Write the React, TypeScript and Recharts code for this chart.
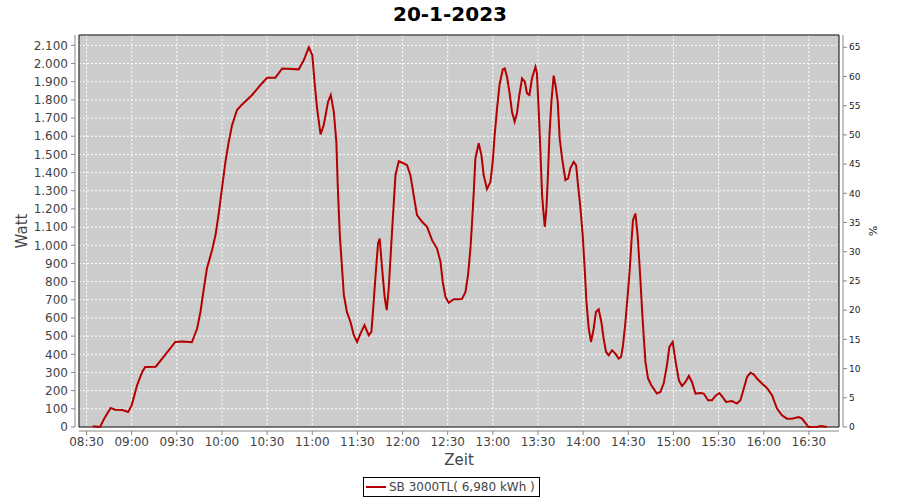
import {
  LineChart,
  Line,
  XAxis,
  YAxis,
  CartesianGrid,
  ReferenceArea,
  Legend,
} from "recharts";

// minutes since midnight
const times = [
  514, 516, 519, 522, 526, 529, 534, 537.6, 540, 543.6, 547, 549, 556, 562.5, 569, 574, 580,
  583.5, 585.7, 588, 590, 593.4, 595.7, 598, 600, 602.3, 604.5, 606.7, 610, 613.4, 620, 625.6,
  630, 635.5, 640, 651, 654.4, 657.7, 660, 661.7, 663.2, 665.5, 667.6, 670.5, 672.3, 674.3, 676,
  677, 678.3, 679.8, 681, 683, 685.4, 687.6, 689.8, 692, 694.7, 697.5, 699.3, 700.8, 702.4,
  703.7, 704.8, 706.4, 708.2, 709.5, 710.8, 712.6, 714.2, 715.3, 717.5, 720.8, 723, 725.2,
  727.4, 729.6, 733, 736.3, 739.6, 742.9, 745.2, 746.7, 748.5, 750.7, 754, 757.3, 759.5, 761.8,
  763.5, 765.1, 766.2, 767.3, 768.4, 770.6, 772.4, 773.9, 776.1, 778.4, 779.9, 781.2, 782.8,
  784.4, 786.6, 787.9, 789.4, 791, 792.7, 794.5, 796, 797.6, 799.4, 801.2, 802.7, 804.3, 806,
  808.3, 809.3, 810.5, 811.6, 812.7, 813.8, 814.5, 815.6, 816.6, 817.6, 818.9, 820.4, 821.6,
  823.1, 824.4, 826, 828.2, 830, 831.5, 833.7, 835.3, 836.6, 838.2, 839.7, 841, 842.2, 843.7,
  845.2, 847, 848.5, 850.3, 852.1, 853.6, 855.2, 857, 859.2, 861.4, 863.6, 865.2, 866.5, 868.1,
  869.6, 871, 872.1, 873.1, 874.7, 876.2, 877.6, 879.1, 880.2, 881.4, 883.1, 885.3, 889, 891.3,
  893.5, 895.7, 897.3, 899.5, 901.3, 903.6, 905.7, 908, 910.2, 912.3, 914.6, 917.9, 920.1, 923,
  925.6, 927.9, 930.5, 932.7, 934.9, 938.9, 942.2, 944.5, 946.7, 948.9, 951.1, 953.3, 955.5,
  958.8, 962.1, 965.5, 968.8, 972.1, 975.4, 978.7, 983.2, 985.4, 988, 989.8, 995, 998, 1002,
];

const watts = [
  3, 3, 0, 50, 105, 95, 93, 83, 119, 230, 303, 330, 332, 399, 468, 470, 466,
  542, 633, 764, 872, 973, 1056, 1184, 1313, 1459, 1569, 1661, 1744, 1775, 1827, 1882,
  1922, 1922, 1973, 1968, 2019, 2089, 2047, 1882, 1753, 1610, 1661, 1790, 1827, 1735, 1569,
  1313, 1056, 872, 725, 633, 578, 505, 468, 514, 560, 505, 523, 688, 872,
  1010, 1037, 872, 707, 643, 762, 1019, 1239, 1386, 1463, 1450, 1441, 1386,
  1276, 1166, 1129, 1101, 1028, 982, 909, 798, 716, 683, 703, 703, 705, 743,
  835, 982, 1129, 1294, 1478, 1561, 1496, 1386, 1309, 1349, 1459, 1606, 1753,
  1882, 1968, 1973, 1927, 1845, 1735, 1680, 1726, 1827, 1918, 1900, 1836, 1827, 1918,
  1982, 1946, 1735, 1514, 1276, 1166, 1101, 1203, 1386, 1606, 1790, 1933, 1882,
  1790, 1588, 1478, 1359, 1368, 1423, 1459, 1441, 1331, 1203, 1056, 872, 688, 542,
  468, 542, 633, 648, 578, 487, 413, 395, 422, 404, 377, 386, 450, 578,
  725, 872, 1019, 1138, 1175, 1056, 872, 652, 505, 358, 267, 230, 184, 193,
  239, 340, 441, 468, 367, 257, 226, 248, 281, 248, 184, 187, 184, 147,
  147, 171, 187, 165, 138, 143, 129, 147, 211, 275, 299, 290, 267,
  239, 215, 175, 101, 64, 46, 46, 55, 46, 19, 0, 0, 5, 0,
];

const timeTicks = [510, 540, 570, 600, 630, 660, 690, 720, 750, 780, 810, 840, 870, 900, 930, 960, 990];
const wattTicks = [0, 100, 200, 300, 400, 500, 600, 700, 800, 900, 1000, 1100, 1200, 1300, 1400, 1500, 1600, 1700, 1800, 1900, 2000, 2100];
const percentTicks = [0, 5, 10, 15, 20, 25, 30, 35, 40, 45, 50, 55, 60, 65];

const xDomain = [505, 1010];
const wattDomain = [0, 2157];
const percentDomain = [0, 67.1];

const title = "20-1-2023";
const seriesName = "SB 3000TL( 6,980 kWh )";

const data = times.map((t, i) => ({ t, w: watts[i], p: null }));

const FONT = "'DejaVu Sans', sans-serif";
const RED = "#b40000";
const AXIS = "#888888";
const TEXT = "#444444";

const pad = (n: number) => String(n).padStart(2, "0");
const fmtTime = (m: number) => `${pad(Math.floor(m / 60))}:${pad(m % 60)}`;
const fmtWatt = (v: number) => String(v).replace(/\B(?=(\d{3})+(?!\d))/g, ".");

const WattLabel = (props: any) => {
  const vb = props.viewBox;
  const x = vb.x + 27;
  const y = vb.y + vb.height / 2;
  return (
    <text x={x} y={y} transform={`rotate(-90 ${x} ${y})`} textAnchor="middle" fontFamily={FONT} fontSize={15} fill={TEXT}>
      Watt
    </text>
  );
};

const PercentLabel = (props: any) => {
  const vb = props.viewBox;
  const x = vb.x + 30;
  const y = vb.y + vb.height / 2;
  return (
    <text x={x} y={y} transform={`rotate(90 ${x} ${y})`} textAnchor="middle" fontFamily={FONT} fontSize={11} fill="#222">
      %
    </text>
  );
};

const ZeitLabel = (props: any) => {
  const vb = props.viewBox;
  return (
    <text x={vb.x + vb.width / 2} y={vb.y + 38} textAnchor="middle" fontFamily={FONT} fontSize={15} fill={TEXT}>
      Zeit
    </text>
  );
};

const LegendBox = (props: any) => {
  const item = (props.payload || []).find((p: any) => p.dataKey === "w");
  return (
    <div
      style={{
        border: "1px solid #000",
        background: "#fff",
        height: 20,
        boxSizing: "border-box",
        display: "flex",
        alignItems: "center",
        padding: "0 4px 0 2px",
        fontFamily: FONT,
        fontSize: 12,
        color: TEXT,
        whiteSpace: "nowrap",
      }}
    >
      <svg width={20} height={6}>
        <line x1={0} y1={3} x2={20} y2={3} stroke={item ? item.color : RED} strokeWidth={2} />
      </svg>
      <span style={{ marginLeft: 3 }}>{item ? item.value : seriesName}</span>
    </div>
  );
};

export default function App() {
  return (
    <div style={{ position: "absolute", left: 0, top: 0, width: 900, height: 500, background: "#fff" }}>
      <LineChart width={900} height={500} data={data} margin={{ top: 35, right: 0, bottom: 0, left: 0 }}>
        <CartesianGrid
          yAxisId="left"
          stroke="#ffffff"
          strokeDasharray="2 2"
          fill="#cccccc"
          fillOpacity={1}
        />
        <XAxis
          dataKey="t"
          type="number"
          domain={xDomain}
          ticks={timeTicks}
          interval={0}
          tickFormatter={fmtTime}
          height={73}
          tickSize={4}
          tickMargin={6}
          axisLine={{ stroke: AXIS, transform: "translate(0 4)" }}
          tickLine={{ stroke: AXIS, transform: "translate(0 4)" }}
          tick={{ fill: TEXT, fontSize: 12, fontFamily: FONT }}
          label={ZeitLabel}
        />
        <YAxis
          yAxisId="left"
          type="number"
          domain={wattDomain}
          ticks={wattTicks}
          interval={0}
          tickFormatter={fmtWatt}
          width={79}
          tickSize={4}
          tickMargin={7}
          axisLine={{ stroke: AXIS, transform: "translate(-4 0)" }}
          tickLine={{ stroke: AXIS, transform: "translate(-4 0)" }}
          tick={{ fill: TEXT, fontSize: 12, fontFamily: FONT }}
          label={WattLabel}
        />
        <YAxis
          yAxisId="right"
          orientation="right"
          type="number"
          domain={percentDomain}
          allowDataOverflow
          ticks={percentTicks}
          interval={0}
          width={61}
          tickSize={4}
          tickMargin={6}
          axisLine={{ stroke: AXIS, transform: "translate(4 0)" }}
          tickLine={{ stroke: AXIS, transform: "translate(4 0)" }}
          tick={{ fill: "#222", fontSize: 9, fontFamily: FONT }}
          label={PercentLabel}
        />
        <Line
          yAxisId="left"
          type="linear"
          dataKey="w"
          name={seriesName}
          stroke={RED}
          strokeWidth={2}
          dot={false}
          activeDot={false}
          isAnimationActive={false}
        />
        <Line
          yAxisId="right"
          type="linear"
          dataKey="p"
          stroke="none"
          dot={false}
          activeDot={false}
          legendType="none"
          isAnimationActive={false}
        />
        <ReferenceArea
          yAxisId="left"
          x1={xDomain[0]}
          x2={xDomain[1]}
          y1={wattDomain[0]}
          y2={wattDomain[1]}
          fill="none"
          stroke="#000"
          strokeWidth={1}
          ifOverflow="visible"
        />
        <Legend
          layout="horizontal"
          verticalAlign="middle"
          align="center"
          content={LegendBox}
          wrapperStyle={{ left: 363, top: 477, width: "auto", height: "auto" }}
        />
      </LineChart>
      <svg style={{ position: "absolute", left: 0, top: 0, pointerEvents: "none" }} width={900} height={30}>
        <text x={450} y={21} textAnchor="middle" fontFamily={FONT} fontSize={20} fontWeight="bold" fill="#000">
          {title}
        </text>
      </svg>
    </div>
  );
}
